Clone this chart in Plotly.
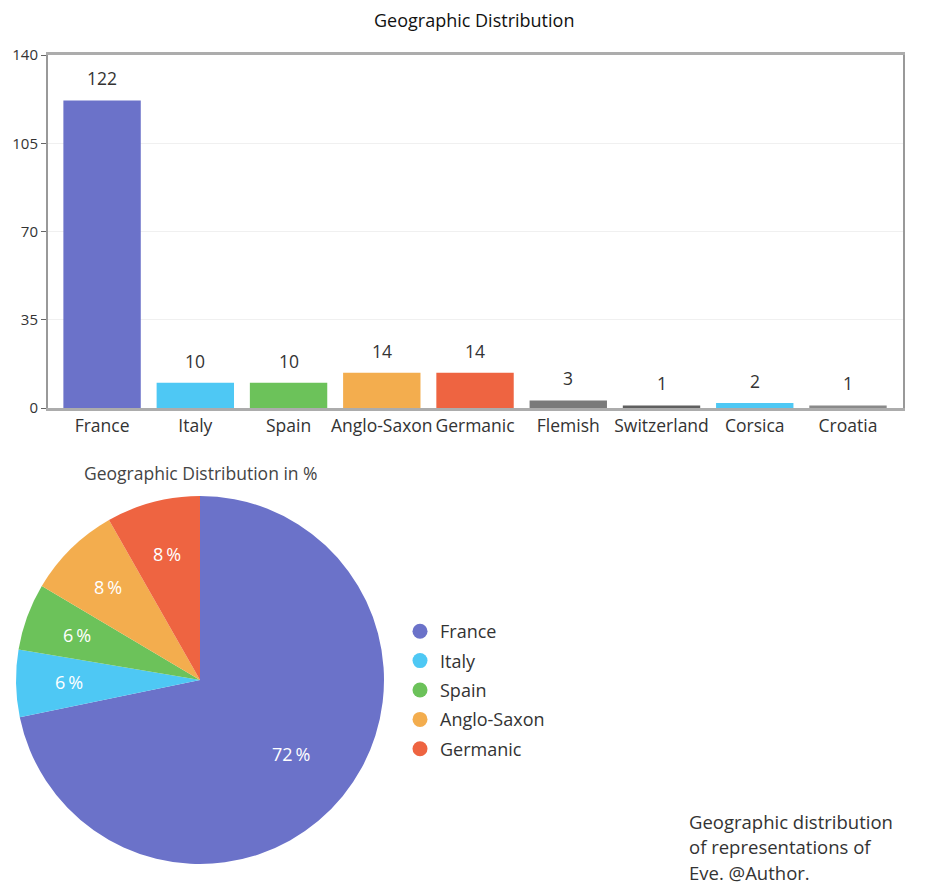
import math
import plotly.graph_objects as go

categories = ["France", "Italy", "Spain", "Anglo-Saxon", "Germanic", "Flemish", "Switzerland", "Corsica", "Croatia"]
counts = [122, 10, 10, 14, 14, 3, 1, 2, 1]
bar_colors = ["#6b72c9", "#4ec8f4", "#6cc25a", "#f3ad4e", "#ee6441", "#7a7a7a", "#5f5f5f", "#4ec8f4", "#8a8a8a"]

pie_labels = ["France", "Italy", "Spain", "Anglo-Saxon", "Germanic"]
pie_values = [122, 10, 10, 14, 14]
pie_colors = ["#6b72c9", "#4ec8f4", "#6cc25a", "#f3ad4e", "#ee6441"]

y_ticks = [0, 35, 70, 105, 140]

caption_lines = ["Geographic distribution", "of representations of", "Eve. @Author."]

FONT = "Open Sans"
W, H = 928, 887
OFF = 8  # default page body margin

def px_x(v):
    return (v - OFF) / W

def px_y(v):
    return 1 - (v - OFF) / H

fig = go.Figure()

fig.add_trace(go.Bar(
    x=categories, y=counts, marker=dict(color=bar_colors, line=dict(width=0)),
    width=0.83, showlegend=False, hoverinfo="x+y",
))

for c, v in zip(categories, counts):
    fig.add_annotation(x=c, y=v, xref="x", yref="y", text=str(v), showarrow=False,
                       yshift=22, font=dict(family=FONT, size=17.5, color="#333"))

# pie geometry (screen px, reference coordinates)
PCX, PCY, PR = 200, 680, 184
fig.add_trace(go.Pie(
    labels=pie_labels, values=pie_values, sort=False, direction="clockwise",
    marker=dict(colors=pie_colors, line=dict(width=0)),
    textinfo="none",
    domain=dict(x=[px_x(PCX - PR), px_x(PCX + PR)], y=[px_y(PCY + PR), px_y(PCY - PR)]),
    showlegend=False,
))

# percentage labels placed along each slice's mid-angle
total = sum(pie_values)
cum = 0
for lab, v in zip(pie_labels, pie_values):
    frac = v / total
    mid = (cum + frac / 2) * 2 * math.pi
    cum += frac
    rr = PR * (0.64 if frac > 0.5 else 0.71)
    tx = PCX + rr * math.sin(mid)
    ty = PCY - rr * math.cos(mid)
    fig.add_annotation(x=px_x(tx), y=px_y(ty), xref="paper", yref="paper",
                       text=f"{round(frac * 100)}\u2009%", showarrow=False,
                       xanchor="center", yanchor="middle",
                       font=dict(family=FONT, size=18, color="white"))

for lab, col in zip(pie_labels, pie_colors):
    fig.add_trace(go.Scatter(
        x=[None], y=[None], mode="markers", name=lab, legendgroup=lab,
        marker=dict(color=col, size=15, symbol="circle"), showlegend=True,
    ))

for i, line in enumerate(caption_lines):
    fig.add_annotation(text=line, x=px_x(687), y=px_y(821 + i * 25.5), xref="paper", yref="paper",
                       showarrow=False, xanchor="left", yanchor="middle", align="left",
                       font=dict(family=FONT, size=18.5, color="#333"))

fig.add_annotation(text="Geographic Distribution", x=px_x(474), y=px_y(20), xref="paper", yref="paper",
                   showarrow=False, xanchor="center", yanchor="middle",
                   font=dict(family=FONT, size=18, color="#111"))
fig.add_annotation(text="Geographic Distribution in %", x=px_x(201), y=px_y(473), xref="paper", yref="paper",
                   showarrow=False, xanchor="center", yanchor="middle",
                   font=dict(family=FONT, size=17.5, color="#444"))

fig.update_layout(
    width=W, height=H,
    margin=dict(l=0, r=0, t=0, b=0, autoexpand=False),
    paper_bgcolor="white", plot_bgcolor="white",
    font=dict(family=FONT, size=16, color="#333"),
    xaxis=dict(
        domain=[px_x(48), px_x(903)],
        range=[-0.58, 8.59], automargin=False,
        showline=True, mirror=True, linecolor="#acacac", linewidth=3,
        ticks="", showgrid=False, zeroline=False,
        tickfont=dict(family=FONT, size=17.5, color="#333"),
    ),
    yaxis=dict(
        domain=[px_y(408), px_y(55)],
        range=[0, 140], automargin=False,
        tickvals=y_ticks,
        showline=True, mirror=True, linecolor="#999", linewidth=2,
        ticks="outside", ticklen=5, tickcolor="#666",
        showgrid=True, gridcolor="#f0f0f0", gridwidth=1, zeroline=False,
        tickfont=dict(family=FONT, size=15, color="#333"),
    ),
    legend=dict(
        x=px_x(400), y=px_y(613), xanchor="left", yanchor="top",
        font=dict(family=FONT, size=18, color="#333"),
        bgcolor="rgba(0,0,0,0)", itemsizing="trace", tracegroupgap=3,
    ),
)

fig.write_html("out.html")
